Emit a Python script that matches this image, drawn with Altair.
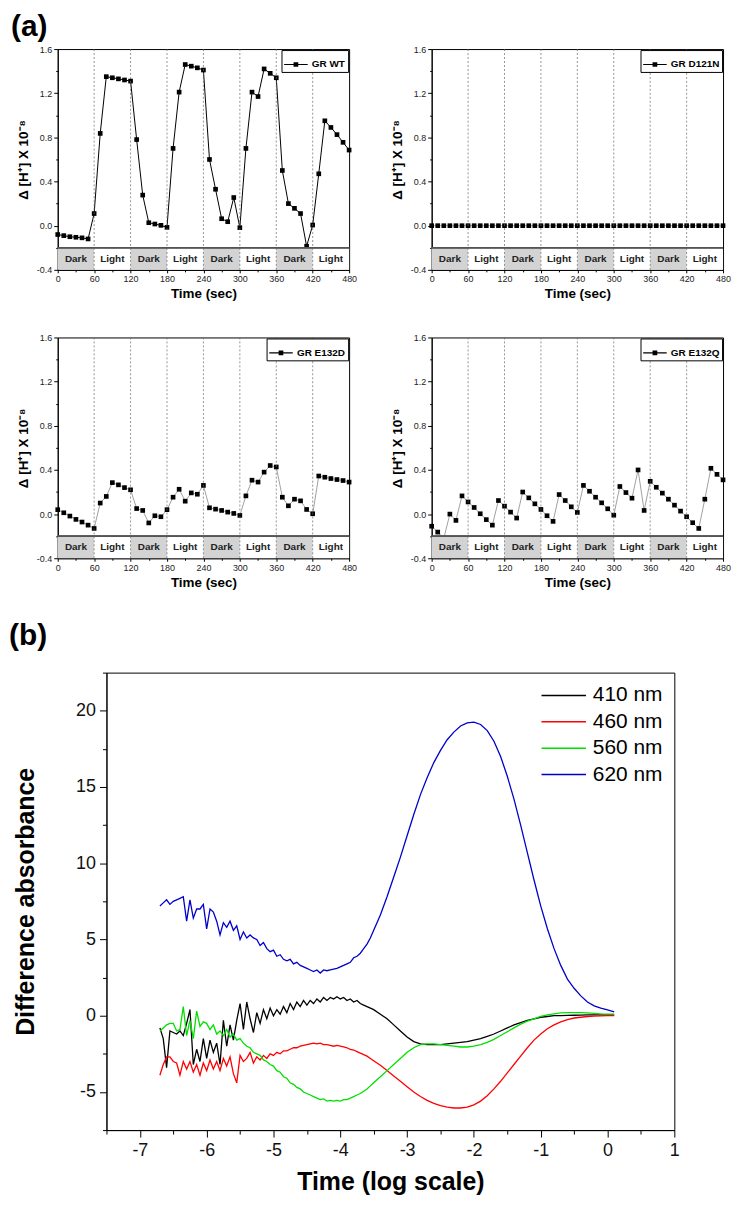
import altair as alt
import pandas as pd

FONT = "Liberation Sans"

# ---------------- panel (a) data ----------------
time_s = [0, 10, 20, 30, 40, 50, 60, 70, 80, 90, 100, 110, 120, 130, 140, 150, 160,
          170, 180, 190, 200, 210, 220, 230, 240, 250, 260, 270, 280, 290, 300, 310,
          320, 330, 340, 350, 360, 370, 380, 390, 400, 410, 420, 430, 440, 450, 460,
          470, 480]

gr_wt = [-0.08, -0.09, -0.10, -0.105, -0.11, -0.12, 0.11, 0.836, 1.35, 1.34, 1.33,
         1.32, 1.31, 0.78, 0.277, 0.027, 0.015, 0.003, -0.015, 0.70, 1.21, 1.46, 1.445,
         1.43, 1.41, 0.60, 0.33, 0.063, 0.036, 0.255, -0.018, 0.70, 1.21, 1.17, 1.42,
         1.38, 1.34, 0.50, 0.20, 0.157, 0.11, -0.186, 0.006, 0.47, 0.95, 0.89, 0.825,
         0.755, 0.685]

gr_d121n = [0.0, 0.0, 0.0, 0.0, 0.0, 0.0, 0.0, 0.0, 0.0, 0.0, 0.0, 0.0, 0.0, 0.0,
            0.0, 0.0, 0.0, 0.0, 0.0, 0.0, 0.0, 0.0, 0.0, 0.0, 0.0, 0.0, 0.0, 0.0,
            0.0, 0.0, 0.0, 0.0, 0.0, 0.0, 0.0, 0.0, 0.0, 0.0, 0.0, 0.0, 0.0, 0.0,
            0.0, 0.0, 0.0, 0.0, 0.0, 0.0, 0.0]

gr_e132d = [0.04, 0.012, -0.018, -0.048, -0.072, -0.10, -0.13, 0.10, 0.16, 0.285,
            0.265, 0.24, 0.22, 0.05, 0.033, -0.08, -0.015, -0.024, 0.04, 0.153, 0.225,
            0.117, 0.192, 0.18, 0.26, 0.057, 0.045, 0.033, 0.018, 0.006, -0.012, 0.165,
            0.307, 0.29, 0.38, 0.44, 0.427, 0.153, 0.075, 0.135, 0.12, 0.042, 0.003,
            0.345, 0.334, 0.322, 0.313, 0.304, 0.29]

gr_e132q = [-0.11, -0.163, -0.22, 0.0, -0.057, 0.165, 0.11, 0.06, 0.003, -0.05, -0.10,
            0.123, 0.072, 0.018, -0.036, 0.20, 0.147, 0.093, 0.042, -0.015, -0.066,
            0.177, 0.123, 0.066, 0.015, 0.26, 0.207, 0.153, 0.102, 0.048, -0.01, 0.25,
            0.195, 0.144, 0.40, 0.033, 0.297, 0.243, 0.19, 0.135, 0.081, 0.027, -0.024,
            -0.078, -0.13, 0.135, 0.415, 0.36, 0.31]

phase_start = [0, 60, 120, 180, 240, 300, 360, 420]
phase_end = [60, 120, 180, 240, 300, 360, 420, 480]
phase_label = ["Dark", "Light", "Dark", "Light", "Dark", "Light", "Dark", "Light"]
phase_fill = ["#d3d3d3", "#ffffff", "#d3d3d3", "#ffffff", "#d3d3d3", "#ffffff",
              "#d3d3d3", "#ffffff"]
boundaries = [60, 120, 180, 240, 300, 360, 420]

a_xticks = [0, 60, 120, 180, 240, 300, 360, 420, 480]
a_xminor = [30, 90, 150, 210, 270, 330, 390, 450]
a_yticks = [-0.4, 0.0, 0.4, 0.8, 1.2, 1.6]
a_yminor = [-0.2, 0.2, 0.6, 1.0, 1.4]

# ---------------- panel (b) data ----------------
x_fine = [round(-6.70 + 0.05 * i, 2) for i in range(64)]
x_coarse = [round(-3.5 + 0.1 * i, 2) for i in range(37)]
log_time = x_fine + x_coarse

nm410 = [-0.8, -1.5, -3.4, -1.0, -1.1, -1.2, -1.0, -1.3, -0.5, 0.4, -3.2, -2.2, -3.0,
         -1.5, -2.8, -1.6, -2.4, -1.8, -3.2, -0.3, -2.0, -0.6, -1.6, -0.3, 0.8, -0.9,
         0.9, -0.2, -1.1, 0.2, -0.5, 0.4, -0.2, 0.5, 0.0, 0.4, 0.1, 0.6, 0.2, 0.8, 0.4,
         0.9, 0.6, 1.0, 0.7, 1.0, 0.8, 1.1, 0.9, 1.2, 1.0, 1.2, 1.1, 1.25, 1.1, 1.2,
         1.0, 1.1, 0.9, 1.0, 0.8, 0.7, 0.6, 0.5,
         0.4, 0.1, -0.2, -0.6, -1.0, -1.4, -1.7, -1.85, -1.9, -1.9, -1.9, -1.85, -1.8,
         -1.75, -1.7, -1.6, -1.5, -1.35, -1.2, -1.0, -0.8, -0.6, -0.45, -0.3, -0.2,
         -0.1, -0.05, 0.0, 0.0, 0.02, 0.03, 0.04, 0.05, 0.05, 0.05, 0.05, 0.05]

nm460 = [-3.9, -3.2, -2.7, -2.7, -3.0, -3.1, -3.9, -3.0, -3.5, -3.0, -3.7, -3.2, -3.9,
         -3.1, -3.6, -2.9, -3.5, -3.0, -3.6, -2.8, -3.3, -2.7, -3.8, -4.4, -2.6, -3.0,
         -2.8, -2.4, -3.1, -2.7, -2.9, -2.6, -2.8, -2.5, -2.6, -2.4, -2.5, -2.3, -2.3,
         -2.2, -2.1, -2.1, -2.0, -1.95, -1.9, -1.85, -1.8, -1.85, -1.8, -1.9, -1.9,
         -1.95, -2.0, -1.95, -2.0, -2.05, -2.1, -2.2, -2.25, -2.35, -2.45, -2.55, -2.65,
         -2.8,
         -2.95, -3.25, -3.6, -3.95, -4.3, -4.65, -5.0, -5.3, -5.55, -5.75, -5.9, -6.0,
         -6.05, -6.05, -6.0, -5.85, -5.6, -5.25, -4.8, -4.3, -3.75, -3.2, -2.65, -2.1,
         -1.6, -1.2, -0.85, -0.6, -0.4, -0.25, -0.15, -0.1, -0.05, -0.03, -0.01, 0.0, 0.0]

nm560 = [-1.0, -0.8, -0.6, -0.5, -0.5, -1.0, -0.9, 0.6, -1.3, -0.3, -1.5, 0.3, -0.7,
         -0.4, -0.5, -0.9, -0.6, -1.2, -1.0, -1.3, -0.9, -1.4, -1.2, -1.6, -1.5, -1.8,
         -2.0, -2.1, -2.4, -2.5, -2.6, -2.9, -3.0, -3.2, -3.3, -3.6, -3.7, -4.0, -4.1,
         -4.4, -4.5, -4.7, -4.8, -5.0, -5.1, -5.2, -5.3, -5.4, -5.5, -5.45, -5.6, -5.55,
         -5.6, -5.55, -5.6, -5.5, -5.5, -5.4, -5.3, -5.2, -5.1, -4.95, -4.8, -4.6,
         -4.4, -4.0, -3.6, -3.2, -2.8, -2.4, -2.1, -1.9, -1.85, -1.85, -1.9, -1.95, -2.0,
         -2.05, -2.05, -2.0, -1.9, -1.75, -1.55, -1.3, -1.05, -0.8, -0.55, -0.35, -0.2,
         -0.05, 0.05, 0.12, 0.18, 0.2, 0.2, 0.2, 0.18, 0.15, 0.12, 0.1, 0.1]

nm620 = [7.2, 7.4, 7.6, 7.3, 7.5, 7.6, 7.7, 7.8, 6.2, 7.6, 6.4, 7.0, 7.0, 7.3, 5.7, 7.0,
         6.8, 6.2, 5.3, 6.1, 5.8, 6.2, 5.6, 5.9, 5.0, 5.5, 5.1, 5.3, 5.1, 5.0, 4.6, 4.8,
         4.4, 4.2, 4.3, 3.9, 4.0, 3.7, 3.6, 3.7, 3.4, 3.5, 3.3, 3.2, 3.1, 3.0, 2.9, 3.0,
         2.8, 3.0, 2.95, 3.0, 3.05, 3.1, 3.2, 3.3, 3.4, 3.5, 3.8, 3.9, 4.1, 4.4, 4.7, 5.1,
         5.6, 6.6, 7.8, 9.1, 10.4, 11.8, 13.2, 14.5, 15.6, 16.6, 17.4, 18.1, 18.6, 19.0,
         19.2, 19.25, 19.1, 18.7, 18.0, 17.0, 15.7, 14.2, 12.5, 10.7, 8.9, 7.2, 5.7, 4.4,
         3.3, 2.4, 1.8, 1.3, 0.9, 0.65, 0.5, 0.38, 0.25]

series_names = ["410 nm", "460 nm", "560 nm", "620 nm"]
series_colors = ["#000000", "#ff0000", "#00e000", "#0000cc"]

b_xticks = [-7, -6, -5, -4, -3, -2, -1, 0, 1]
b_xminor = [-7.5, -6.5, -5.5, -4.5, -3.5, -2.5, -1.5, -0.5, 0.5]
b_yticks = [-5, 0, 5, 10, 15, 20]
b_yminor = [-7.5, -2.5, 2.5, 7.5, 12.5, 17.5, 22.5]

MINUS = "replace(datum.label, '\u2212', '-')"
LEG_SYM = "M-1,-0.045H1V0.045H-1ZM-0.2,-0.2H0.2V0.2H-0.2Z"
LEG_LINE = "M-3,0H1"

A_W, A_H = 293, 222


def panel_a(name, vals, line_color, line_width):
    df = pd.DataFrame({"t": time_s, "v": vals, "name": [name] * len(time_s)})
    ph = pd.DataFrame({"s": phase_start, "e": phase_end, "lab": phase_label,
                       "fill": phase_fill,
                       "mid": [(s + e) / 2 for s, e in zip(phase_start, phase_end)]})
    bd = pd.DataFrame({"b": boundaries})
    xs = alt.Scale(domain=[0, 480], nice=False, zero=False)
    ys = alt.Scale(domain=[-0.4, 1.6], nice=False, zero=False)
    x_axis = alt.Axis(values=a_xticks, title="Time (sec)", orient="bottom",
                      labelFontSize=9, labelColor="#222", tickSize=3, labelPadding=2,
                      titleFontSize=13.5, titleFontWeight="bold", titlePadding=3,
                      grid=False, labelExpr=MINUS, labelFlush=False)
    y_axis = alt.Axis(values=a_yticks, format=".1f", title="\u0394 [H\u207a] X 10\u207b\u2078",
                      orient="left", labelFontSize=9, labelColor="#222", tickSize=4,
                      labelPadding=2, titleFontSize=13.5, titleFontWeight="bold",
                      titlePadding=6, grid=False, labelExpr=MINUS, labelFlush=False)
    minor = alt.Chart(df).mark_point(opacity=0).encode(
        x=alt.X("t:Q", scale=xs, axis=alt.Axis(values=a_xminor, labels=False, title=None,
                                               orient="bottom", tickSize=2, domain=False,
                                               grid=False)),
        y=alt.Y("v:Q", scale=ys, axis=alt.Axis(values=a_yminor, labels=False, title=None,
                                               orient="left", tickSize=2, domain=False,
                                               grid=False)))
    line = alt.Chart(df).mark_line(color=line_color, strokeWidth=line_width).encode(
        x=alt.X("t:Q", scale=xs, axis=x_axis),
        y=alt.Y("v:Q", scale=ys, axis=y_axis))
    pts = alt.Chart(df).mark_square(size=22, opacity=1).encode(
        x=alt.X("t:Q", scale=xs, axis=None),
        y=alt.Y("v:Q", scale=ys, axis=None),
        color=alt.Color("name:N", scale=alt.Scale(range=["#000000"]),
                        legend=alt.Legend(title=None, orient="top-right", offset=1,
                                          strokeColor="#000", fillColor="white",
                                          padding=2.5, symbolType=LEG_SYM,
                                          symbolSize=560, symbolFillColor="#000",
                                          symbolStrokeWidth=0, symbolOpacity=1,
                                          labelFontSize=10, labelFontWeight="bold",
                                          labelFont=FONT, labelOffset=4,
                                          labelColor="#000")))
    bands = alt.Chart(ph).mark_rect().encode(
        x=alt.X("s:Q", scale=xs, axis=None), x2="e:Q",
        y=alt.datum(-0.4, scale=ys, axis=None), y2=alt.datum(-0.2),
        fill=alt.Fill("fill:N", scale=None))
    btext = alt.Chart(ph).mark_text(fontSize=10, fontWeight="bold", font=FONT,
                                    color="#222").encode(
        x=alt.X("mid:Q", scale=xs, axis=None), y=alt.datum(-0.3, scale=ys, axis=None),
        text="lab:N")
    hrule = alt.Chart(ph).mark_rule(color="#555", strokeWidth=0.8).encode(
        y=alt.datum(-0.2, scale=ys, axis=None))
    vrule = alt.Chart(bd).mark_rule(color="#666", strokeWidth=0.7,
                                    strokeDash=[2, 2]).encode(
        x=alt.X("b:Q", scale=xs, axis=None))
    return alt.layer(minor, line, pts, bands, btext, hrule, vrule).resolve_axis(
        x="independent", y="independent").properties(width=A_W, height=A_H)


p1 = panel_a("GR WT", gr_wt, "#000000", 1.0)
p2 = panel_a("GR D121N", gr_d121n, "#777777", 0.7)
p3 = panel_a("GR E132D", gr_e132d, "#777777", 0.7)
p4 = panel_a("GR E132Q", gr_e132q, "#777777", 0.7)

# ---------------- panel (b) ----------------
rows = []
for nm, vals in zip(series_names, [nm410, nm460, nm560, nm620]):
    for xv, yv in zip(log_time, vals):
        rows.append({"x": xv, "y": yv, "series": nm})
dfb = pd.DataFrame(rows)
bxs = alt.Scale(domain=[-7.5, 1], nice=False, zero=False)
bys = alt.Scale(domain=[-7.5, 22.5], nice=False, zero=False)

b_minor = alt.Chart(dfb).mark_point(opacity=0).encode(
    x=alt.X("x:Q", scale=bxs, axis=alt.Axis(values=b_xminor, labels=False, title=None,
                                            orient="bottom", tickSize=4, domain=False,
                                            grid=False)),
    y=alt.Y("y:Q", scale=bys, axis=alt.Axis(values=b_yminor, labels=False, title=None,
                                            orient="left", tickSize=4, domain=False,
                                            grid=False)))
b_lines = alt.Chart(dfb).mark_line(strokeWidth=1.3).encode(
    x=alt.X("x:Q", scale=bxs,
            axis=alt.Axis(values=b_xticks, title="Time (log scale)", orient="bottom",
                          labelFontSize=18, labelColor="#111", tickSize=7,
                          labelPadding=5, titleFontSize=25, titleFontWeight="bold",
                          titlePadding=10, grid=False, labelExpr=MINUS,
                          labelFlush=False)),
    y=alt.Y("y:Q", scale=bys,
            axis=alt.Axis(values=b_yticks, title="Difference absorbance", orient="left",
                          labelFontSize=18, labelColor="#111", tickSize=7,
                          labelPadding=4, titleFontSize=25, titleFontWeight="bold",
                          titlePadding=37, grid=False, labelExpr=MINUS,
                          labelFlush=False)),
    color=alt.Color("series:N", scale=alt.Scale(domain=series_names, range=series_colors),
                    legend=alt.Legend(title=None, orient="top-right", offset=11,
                                      padding=0, symbolType=LEG_LINE, symbolSize=500,
                                      symbolStrokeWidth=1.5, labelFontSize=21,
                                      labelFont=FONT, labelColor="#000", labelOffset=6,
                                      rowPadding=4.5)),
    order=alt.Order("x:Q"),
    detail="series:N")

pb = alt.layer(b_minor, b_lines).resolve_axis(
    x="independent", y="independent").properties(
    width=571, height=460,
    title=alt.TitleParams("(b)", anchor="start", frame="bounds", fontSize=30,
                          fontWeight="bold", font=FONT, offset=21, dx=-5))

# zero-size spacer so that panel (b) can start further right than the (a) panels
spacer = alt.Chart(pd.DataFrame({"s": [0]})).mark_point(opacity=0).encode(
    x=alt.X("s:Q", axis=None), y=alt.Y("s:Q", axis=None)).properties(
    width=1, height=1, view=alt.ViewBackground(stroke="transparent"))

row1 = alt.hconcat(p1, p2, spacing=31).resolve_scale(color="independent").properties(
    title=alt.TitleParams("(a)", anchor="start", frame="bounds", fontSize=30,
                          fontWeight="bold", font=FONT, offset=3, dx=-5))
row2 = alt.hconcat(p3, p4, spacing=31).resolve_scale(color="independent")
row3 = alt.hconcat(spacer, pb, spacing=-54).resolve_scale(color="independent")

chart = alt.vconcat(
    row1, row2, row3, spacing=32,
    padding={"left": 0, "top": 0, "right": 0, "bottom": 0},
).resolve_scale(color="independent").configure(
    font=FONT
).configure_view(stroke="#000", strokeWidth=1).configure_axis(
    domainColor="#000", tickColor="#000", labelFont=FONT, titleFont=FONT,
    titleColor="#000")

chart.save("out.html", embed_options={"renderer": "svg", "actions": False})
